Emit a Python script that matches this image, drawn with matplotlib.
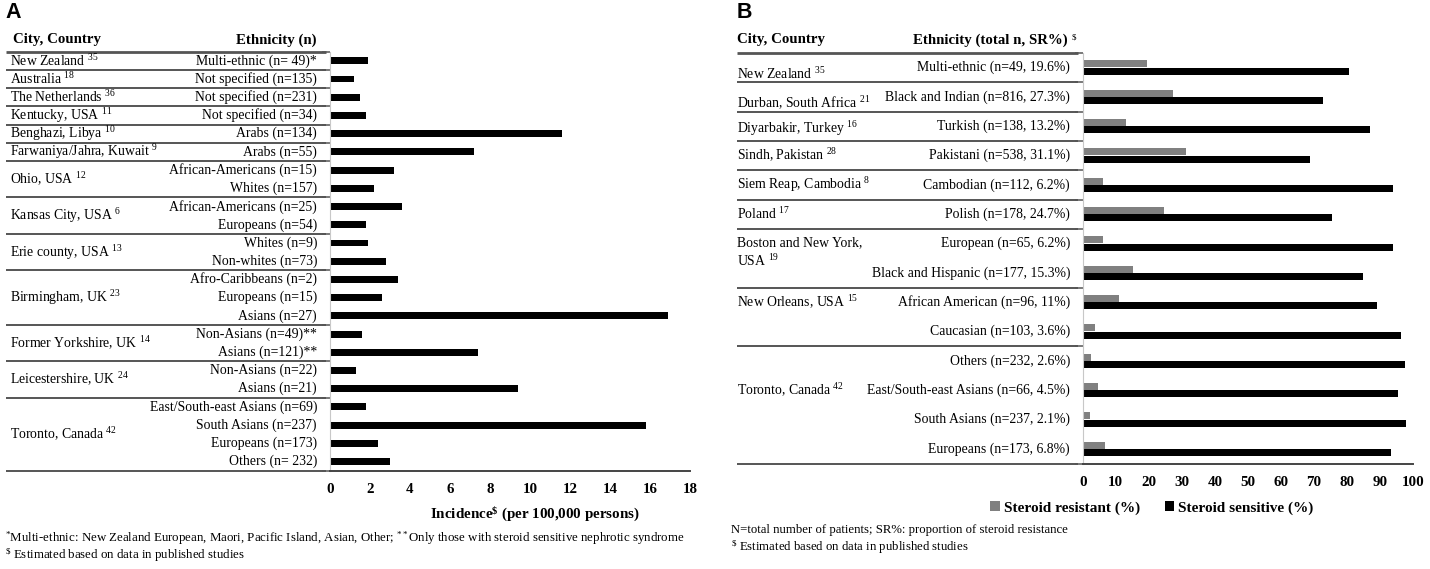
import matplotlib
matplotlib.use('Agg')
import matplotlib.pyplot as plt
from matplotlib import transforms
import numpy as np

plt.rcParams['font.family'] = ['Liberation Serif', 'DejaVu Serif']
plt.rcParams['mathtext.fontset'] = 'custom'
plt.rcParams['mathtext.rm'] = 'Liberation Serif'
plt.rcParams['mathtext.bf'] = 'Liberation Serif:bold'
plt.rcParams['mathtext.it'] = 'Liberation Serif:italic'
plt.rcParams['mathtext.default'] = 'regular'

# ---------------- Panel A data ----------------
a_cities = ["New Zealand", "Australia", "The Netherlands", "Kentucky, USA",
            "Benghazi, Libya", "Farwaniya/Jahra, Kuwait", "Ohio, USA",
            "Kansas City, USA", "Erie county, USA", "Birmingham, UK",
            "Former Yorkshire, UK", "Leicestershire, UK", "Toronto, Canada"]
a_refs = ["35", "18", "36", "11", "10", "9", "12", "6", "13", "23", "14", "24", "42"]
a_group_sizes = [1, 1, 1, 1, 1, 1, 2, 2, 2, 3, 2, 2, 4]
a_ethnicities = ["Multi-ethnic (n= 49)*", "Not specified (n=135)", "Not specified (n=231)",
                 "Not specified (n=34)", "Arabs (n=134)", "Arabs (n=55)",
                 "African-Americans (n=15)", "Whites (n=157)",
                 "African-Americans (n=25)", "Europeans (n=54)",
                 "Whites (n=9)", "Non-whites (n=73)",
                 "Afro-Caribbeans (n=2)", "Europeans (n=15)", "Asians (n=27)",
                 "Non-Asians (n=49)**", "Asians (n=121)**",
                 "Non-Asians (n=22)", "Asians (n=21)",
                 "East/South-east Asians (n=69)", "South Asians (n=237)",
                 "Europeans (n=173)", "Others (n= 232)"]
a_incidence = [1.9, 1.2, 1.5, 1.8, 11.6, 7.2, 3.2, 2.2, 3.6, 1.8, 1.9, 2.8,
               3.4, 2.6, 16.9, 1.6, 7.4, 1.3, 9.4, 1.8, 15.8, 2.4, 3.0]
a_xticks = [0, 2, 4, 6, 8, 10, 12, 14, 16, 18]

# ---------------- Panel B data ----------------
b_cities = ["New Zealand", "Durban, South Africa", "Diyarbakir, Turkey", "Sindh, Pakistan",
            "Siem Reap, Cambodia", "Poland", "Boston and New York,\nUSA",
            "New Orleans, USA", "Toronto, Canada"]
b_refs = ["35", "21", "16", "28", "8", "17", "19", "15", "42"]
b_group_sizes = [1, 1, 1, 1, 1, 1, 2, 2, 4]
b_ethnicities = ["Multi-ethnic (n=49, 19.6%)", "Black and Indian (n=816, 27.3%)",
                 "Turkish (n=138, 13.2%)", "Pakistani (n=538, 31.1%)",
                 "Cambodian (n=112, 6.2%)", "Polish (n=178, 24.7%)",
                 "European (n=65, 6.2%)", "Black and Hispanic (n=177, 15.3%)",
                 "African American (n=96, 11%)", "Caucasian (n=103, 3.6%)",
                 "Others (n=232, 2.6%)", "East/South-east Asians (n=66, 4.5%)",
                 "South Asians (n=237, 2.1%)", "Europeans (n=173, 6.8%)"]
b_resistant = [19.6, 27.3, 13.2, 31.1, 6.2, 24.7, 6.2, 15.3, 11.0, 3.6, 2.6, 4.5, 2.1, 6.8]
b_sensitive = [80.4, 72.7, 86.8, 68.9, 93.8, 75.3, 93.8, 84.7, 89.0, 96.4, 97.4, 95.5, 97.9, 93.2]
b_xticks = [0, 10, 20, 30, 40, 50, 60, 70, 80, 90, 100]
b_series = ["Steroid resistant (%)", "Steroid sensitive (%)"]

W, H = 1430, 569
fig = plt.figure(figsize=(W / 100, H / 100), dpi=100)

LINE_C = '#555555'
TXT = 9.95


def fx(px):
    return px / W


def fy(py):
    return 1 - py / H


def table_lines(ax, sizes, x0, x1):
    blend = transforms.blended_transform_factory(fig.transFigure, ax.transData)
    bounds = [-0.5] + list(np.cumsum(sizes) - 0.5)
    for i, b in enumerate(bounds):
        lw = 2.0 if i == 0 else 1.4
        ax.plot([fx(x0), fx(x1)], [b, b], transform=blend, color=LINE_C,
                lw=lw, clip_on=False, solid_capstyle='butt')
    return bounds


def style_axes(ax, bounds):
    for s in ['top', 'right']:
        ax.spines[s].set_visible(False)
    ax.spines['left'].set_color('#c8c8c8')
    ax.spines['left'].set_linewidth(0.8)
    ax.spines['bottom'].set_color('#444444')
    ax.spines['bottom'].set_linewidth(1.4)
    ax.set_yticks(bounds)
    ax.set_yticklabels([])
    ax.tick_params(axis='y', direction='out', length=6, width=1.1, color=LINE_C)
    ax.tick_params(axis='x', length=0, pad=9, labelsize=10.8)
    for t in ax.get_xticklabels():
        t.set_fontweight('bold')


# ================= Panel A =================
axA = fig.add_axes([fx(330), fy(470.7), fx(690 - 330), (470.7 - 51.7) / H])
nA = len(a_incidence)
yA = np.arange(nA)
axA.barh(yA, a_incidence, height=0.38, color='black')
axA.set_xlim(0, 18)
axA.set_ylim(nA - 0.5, -0.5)
axA.set_xticks(a_xticks)
axA.set_xticklabels([str(v) for v in a_xticks])
boundsA = table_lines(axA, a_group_sizes, 6, 326)
style_axes(axA, boundsA)
blendA = transforms.blended_transform_factory(fig.transFigure, axA.transData)
for i, e in enumerate(a_ethnicities):
    axA.text(fx(317), i, e, transform=blendA, ha='right', va='center', fontsize=TXT)
start = 0
for c, r, s in zip(a_cities, a_refs, a_group_sizes):
    yc = start + (s - 1) / 2
    axA.text(fx(10), yc, c + " $^{" + r + "}$", transform=blendA, ha='left',
             va='center', fontsize=TXT)
    start += s
fig.text(fx(13), fy(40), "City, Country", ha='left', va='center',
         fontsize=10.7, fontweight='bold')
fig.text(fx(316), fy(40), "Ethnicity (n)", ha='right', va='center',
         fontsize=10.7, fontweight='bold')
fig.text(fx(535), fy(514), r"Incidence$^{\$}$ (per 100,000 persons)", ha='center',
         va='center', fontsize=10.8, fontweight='bold')
fig.text(fx(5), fy(538), r"$^{*}$Multi-ethnic: New Zealand European, Maori, Pacific Island, "
         r"Asian, Other; $^{**}$Only those with steroid sensitive nephrotic syndrome",
         ha='left', va='center', fontsize=9.3)
fig.text(fx(5), fy(555), r"$^{\$}$ Estimated based on data in published studies",
         ha='left', va='center', fontsize=9.3)
fig.text(fx(5), fy(12), "A", ha='left', va='center', fontsize=15.5, fontweight='bold',
         family='Liberation Sans')

# ================= Panel B =================
axB = fig.add_axes([fx(1082.7), fy(463.6), fx(1413.3 - 1082.7), (463.6 - 52.9) / H])
nB = len(b_resistant)
yB = np.arange(nB)
hR = axB.barh(yB - 0.125, b_resistant, height=0.24, color='#808080', label=b_series[0])
hS = axB.barh(yB + 0.125, b_sensitive, height=0.24, color='black', label=b_series[1])
axB.set_xlim(0, 100)
axB.set_ylim(nB - 0.5, -0.5)
axB.set_xticks(b_xticks)
axB.set_xticklabels([str(v) for v in b_xticks])
boundsB = table_lines(axB, b_group_sizes, 737, 1078)
style_axes(axB, boundsB)
blendB = transforms.blended_transform_factory(fig.transFigure, axB.transData)
for i, e in enumerate(b_ethnicities):
    axB.text(fx(1070), i, e, transform=blendB, ha='right', va='center', fontsize=TXT)
b_city_offsets = [0.22, 0.22, 0.08, 0, 0, 0, 0, 0, 1]
start = 0
for c, r, s, off in zip(b_cities, b_refs, b_group_sizes, b_city_offsets):
    yc = start + off
    if '\n' in c:
        axB.text(fx(737), yc - 0.24, c + " $^{" + r + "}$", transform=blendB, ha='left',
                 va='top', fontsize=TXT, linespacing=1.3)
    else:
        axB.text(fx(737), yc, c + " $^{" + r + "}$", transform=blendB, ha='left',
                 va='center', fontsize=TXT)
    start += s
fig.text(fx(737), fy(40), "City, Country", ha='left', va='center',
         fontsize=10.7, fontweight='bold')
fig.text(fx(1068), fy(40), "Ethnicity (total n, SR%)", ha='right', va='center',
         fontsize=10.7, fontweight='bold')
fig.text(fx(1072), fy(37), r"$", ha='left', va='center', fontsize=6.5)
fig.text(fx(731), fy(530), "N=total number of patients; SR%: proportion of steroid resistance",
         ha='left', va='center', fontsize=9.2)
fig.text(fx(731), fy(547), r"$^{\$}$ Estimated based on data in published studies",
         ha='left', va='center', fontsize=9.2)
fig.text(fx(737), fy(12), "B", ha='left', va='center', fontsize=15.5, fontweight='bold',
         family='Liberation Sans')
fig.legend(handles=[hR, hS], loc='center', bbox_to_anchor=(fx(1152), fy(508)), ncol=2,
           frameon=False, handlelength=0.6, handleheight=0.6, handletextpad=0.3,
           columnspacing=1.6, prop={'weight': 'bold', 'size': 11})

fig.savefig('out.png', dpi=100)
